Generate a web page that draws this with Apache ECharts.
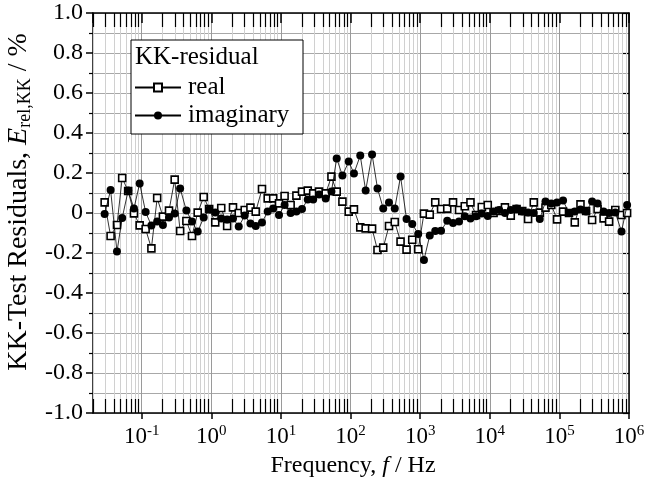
<!DOCTYPE html>
<html>
<head>
<meta charset="utf-8">
<script src="https://cdn.jsdelivr.net/npm/echarts@6/dist/echarts.min.js"></script>
<style>
	html, body { margin: 0; padding: 0; background: #fff; }
	#chart { width: 645px; height: 487px; }
</style>
</head>
<body>
<div id="chart"></div>
<script>
	// frequency of each measured point, Hz
	const frequencies = [
		0.0294, 0.0358, 0.0442, 0.0525, 0.064, 0.0775, 0.0936, 0.114, 0.138, 0.167,
		0.202, 0.247, 0.298, 0.357, 0.439, 0.528, 0.638, 0.778, 0.933, 1.14,
		1.39, 1.69, 2.05, 2.48, 3.02, 3.65, 4.35, 5.35, 6.46, 7.75,
		9.39, 11.3, 13.8, 16.7, 20.1, 24.3, 29.1, 35.3, 44.0, 53.2,
		63.3, 76.5, 94.2, 112, 138, 165, 204, 244, 295, 357,
		432, 523, 638, 770, 939, 1134, 1374, 1648, 1997, 2451,
		2969, 3623, 4374, 5282, 6357, 7678, 9361, 11340, 13650, 16530,
		20030, 24280, 29310, 35510, 42880, 52290, 63140, 76480, 92680, 113000,
		137400, 166400, 201000, 241900, 295100, 353900, 431600, 517700, 635600, 780300,
		939100
	];
	// KK residual of the real part, %
	const realResidual = [
		0.053, -0.115, -0.06, 0.175, 0.11, -0.002, -0.062, -0.08, -0.177, 0.075,
		-0.018, 0.012, 0.167, -0.09, -0.04, -0.115, 0.002, 0.08, 0.02, -0.047,
		0.025, -0.065, 0.028, 0.0, 0.015, 0.027, 0.007, 0.12, 0.073, 0.073,
		0.048, 0.085, 0.04, 0.087, 0.107, 0.112, 0.098, 0.107, 0.098, 0.182,
		0.107, 0.057, 0.007, 0.018, -0.072, -0.077, -0.078, -0.185, -0.173, -0.065,
		-0.045, -0.143, -0.183, -0.134, -0.181, -0.003, -0.008, 0.053, 0.02, 0.022,
		0.053, 0.015, 0.034, 0.053, -0.01, 0.03, 0.04, 0.0, 0.01, 0.028,
		-0.013, 0.02, 0.01, -0.03, 0.053, 0.002, 0.027, 0.04, -0.032, 0.007,
		0.0, -0.047, 0.043, 0.01, -0.035, 0.02, -0.027, -0.043, 0.015, -0.01,
		0.0
	];
	// KK residual of the imaginary part, %
	const imagResidual = [
		-0.005, 0.115, -0.193, -0.025, 0.112, 0.023, 0.148, 0.005, -0.063, -0.043,
		-0.06, -0.022, -0.002, 0.123, 0.012, -0.043, -0.093, -0.023, 0.018, 0.002,
		-0.027, -0.032, -0.027, -0.068, -0.013, -0.052, -0.065, -0.048, 0.007, 0.023,
		-0.01, 0.04, 0.0, 0.007, 0.02, 0.068, 0.068, 0.093, 0.073, 0.107,
		0.273, 0.187, 0.257, 0.198, 0.287, 0.112, 0.293, 0.123, 0.023, 0.052,
		0.023, 0.183, -0.03, -0.055, -0.105, -0.235, -0.112, -0.09, -0.089, -0.039,
		-0.05, -0.043, -0.016, -0.028, -0.016, -0.002, -0.015, 0.007, 0.015, 0.0,
		0.015, 0.023, 0.007, 0.002, 0.0, -0.03, 0.057, 0.048, 0.053, 0.062,
		0.0, 0.007, 0.018, 0.007, 0.057, 0.048, 0.007, 0.0, 0.003, -0.093,
		0.04
	];
	const xMin = 0.02;
	const xMax = 1e6;
	const yMin = -1;
	const yMax = 1;
	const yStep = 0.2;

	const FONT = '"Liberation Serif", "Times New Roman", serif';

	const realData = frequencies.map((f, i) => [f, realResidual[i]]);
	const imagData = frequencies.map((f, i) => [f, imagResidual[i]]);

	// minor log positions 2..9 x 10^k inside the axis range
	const minorX = [];
	for (let k = -2; k < 6; k++) {
		for (let m = 2; m <= 9; m++) {
			const v = m * Math.pow(10, k);
			if (v >= xMin && v < xMax) minorX.push(v);
		}
	}
	const minorGrid = minorX.map(v => ({ xAxis: v }));
	const tickLen = (yMax - yMin) * 0.035;
	const minorTicks = [];
	minorX.forEach(v => {
		minorTicks.push([{ coord: [v, yMax] }, { coord: [v, yMax - tickLen] }]);
		minorTicks.push([{ coord: [v, yMin] }, { coord: [v, yMin + tickLen] }]);
	});

	const chart = echarts.init(document.getElementById('chart'));

	const expLabel = v => {
		const e = Math.log10(v);
		if (Math.abs(e - Math.round(e)) > 1e-6) return '';
		return '{b|10}{e|' + Math.round(e) + '}';
	};
	const yLabel = v => (Math.abs(v) < 1e-9 ? '0' : v.toFixed(1));

	const option = {
		animation: false,
		backgroundColor: '#fff',
		textStyle: { fontFamily: FONT, color: '#000' },
		grid: { left: 93, right: 16, top: 13, bottom: 74, outerBoundsMode: 'none' },
		xAxis: [
			{
				type: 'log',
				logBase: 10,
				min: xMin,
				max: xMax,
				position: 'bottom',
				name: '{a|Frequency, }{i|f}{a| / Hz}',
				nameLocation: 'middle',
				nameGap: 38,
				nameTextStyle: {
					padding: [0, 16, 0, 0],
					rich: {
						a: { fontFamily: FONT, fontSize: 24, color: '#000' },
						i: { fontFamily: FONT, fontSize: 24, fontStyle: 'italic', color: '#000' }
					}
				},
				axisLine: { onZero: false, lineStyle: { color: '#000', width: 1.5 } },
				axisTick: { inside: false, length: 6, lineStyle: { color: '#000', width: 1.5 } },
				axisLabel: {
					margin: 11,
					showMinLabel: false,
					formatter: expLabel,
					rich: {
						b: { fontFamily: FONT, fontSize: 23, lineHeight: 26, color: '#000' },
						e: { fontFamily: FONT, fontSize: 15, lineHeight: 15, verticalAlign: 'top', color: '#000' }
					}
				},
				splitLine: { show: true, lineStyle: { color: '#9a9a9a', width: 1 } }
			},
			{
				type: 'log',
				logBase: 10,
				min: xMin,
				max: xMax,
				position: 'top',
				axisLine: { onZero: false, lineStyle: { color: '#000', width: 1.5 } },
				axisTick: { inside: true, length: 10, lineStyle: { color: '#000', width: 1.5 } },
				axisLabel: { show: false },
				splitLine: { show: false }
			}
		],
		yAxis: [
			{
				type: 'value',
				min: yMin,
				max: yMax,
				interval: yStep,
				name: '{a|KK-Test Residuals, }{i|E}{s|rel,KK}{a| / %}',
				nameLocation: 'middle',
				nameGap: 51,
				nameRotate: 90,
				nameTextStyle: {
					padding: [0, 0, 0, 22],
					rich: {
						a: { fontFamily: FONT, fontSize: 28, lineHeight: 31, color: '#000' },
						i: { fontFamily: FONT, fontSize: 28, lineHeight: 31, fontStyle: 'italic', color: '#000' },
						s: { fontFamily: FONT, fontSize: 18, lineHeight: 18, verticalAlign: 'bottom', color: '#000' }
					}
				},
				axisLine: { show: true, onZero: false, lineStyle: { color: '#000', width: 1.5 } },
				axisTick: { inside: false, length: 7, lineStyle: { color: '#000', width: 1.5 } },
				minorTick: { show: true, splitNumber: 2, length: 4, lineStyle: { color: '#000', width: 1.2 } },
				axisLabel: {
					margin: 10,
					formatter: yLabel,
					fontFamily: FONT,
					fontSize: 24,
					color: '#000'
				},
				splitLine: { show: true, lineStyle: { color: '#a8a8a8', width: 1 } },
				minorSplitLine: { show: true, lineStyle: { color: '#a8a8a8', width: 1 } }
			},
			{
				type: 'value',
				min: yMin,
				max: yMax,
				interval: yStep,
				position: 'right',
				axisLine: { show: true, onZero: false, lineStyle: { color: '#000', width: 1.5 } },
				axisTick: { inside: true, length: 6, lineStyle: { color: '#000', width: 1.2 } },
				axisLabel: { show: false },
				splitLine: { show: false }
			}
		],
		legend: {
			data: ['real', 'imaginary'],
			orient: 'vertical',
			left: 134,
			top: 75,
			itemWidth: 46,
			itemHeight: 10,
			itemGap: 3,
			padding: 0,
			textStyle: { fontFamily: FONT, fontSize: 25, lineHeight: 24, color: '#000', padding: [0, 0, 0, 2] }
		},
		graphic: [
			{
				type: 'rect',
				z: 3,
				shape: { x: 131, y: 40, width: 172, height: 94 },
				style: { fill: '#fff', stroke: '#000', lineWidth: 1 }
			},
			{
				type: 'text',
				z: 4,
				left: 135,
				top: 45,
				style: { text: 'KK-residual', fontFamily: FONT, fontSize: 25, fill: '#000' }
			}
		],
		series: [
			{
				// light log-minor grid and short frame ticks
				type: 'line',
				data: [],
				silent: true,
				markLine: {
					silent: true,
					symbol: 'none',
					z: 1,
					label: { show: false },
					emphasis: { disabled: true },
					lineStyle: { color: '#d0d0d0', width: 1, type: 'solid' },
					data: minorGrid
				}
			},
			{
				type: 'line',
				data: [],
				silent: true,
				markLine: {
					silent: true,
					symbol: 'none',
					z: 3,
					label: { show: false },
					emphasis: { disabled: true },
					lineStyle: { color: '#000', width: 1.2, type: 'solid' },
					data: minorTicks
				}
			},
			{
				name: 'real',
				type: 'line',
				data: realData,
				z: 4,
				symbol: 'rect',
				symbolSize: 7,
				showAllSymbol: true,
				lineStyle: { color: '#000', width: 0.8 },
				itemStyle: { color: '#fff', borderColor: '#000', borderWidth: 1.6 }
			},
			{
				name: 'imaginary',
				type: 'line',
				data: imagData,
				z: 5,
				symbol: 'circle',
				symbolSize: 8,
				showAllSymbol: true,
				lineStyle: { color: '#000', width: 0.8 },
				itemStyle: { color: '#000', borderColor: '#000', borderWidth: 0 }
			}
		]
	};
	chart.setOption(option);
</script>
</body>
</html>
